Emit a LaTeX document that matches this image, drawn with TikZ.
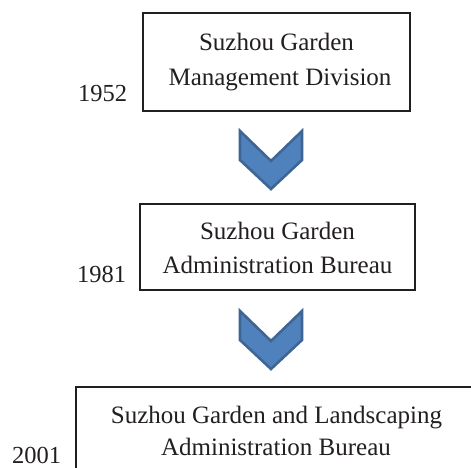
\documentclass[tikz,border=0pt]{standalone}
\usepackage{fontspec}
\setmainfont{Liberation Serif}
\usetikzlibrary{calc}
\definecolor{chevfill}{HTML}{4F81BD}
\definecolor{chevline}{HTML}{3F6595}
\definecolor{boxline}{HTML}{231F20}
\definecolor{txt}{HTML}{231F20}
\begin{document}
\begin{tikzpicture}[x=1pt,y=-1pt,
  boxshape/.style={draw=boxline,line width=1.6pt,inner sep=0pt,outer sep=0pt},
  label/.style={anchor=base,inner sep=0pt,text=txt,font=\fontsize{25}{30}\selectfont},
  yearlabel/.style={anchor=base west,inner sep=0pt,text=txt,font=\fontsize{24.5}{30}\selectfont},
  chev/.style={fill=chevfill,draw=chevline,line width=2.6pt,line join=miter}]
\clip (0,0) rectangle (471,467);
\fill[white] (0,0) rectangle (471,467);
% boxes
\node[boxshape,minimum width=267pt,minimum height=98pt] (b1) at (276.5,62) {};
\node[boxshape,minimum width=275pt,minimum height=86pt] (b2) at (277.5,247) {};
\node[boxshape,minimum width=402pt,minimum height=110pt] (b3) at (277,442) {};
% texts
\node[label] (t1a) at (276.5,50) {Suzhou Garden};
\node[label] (t1b) at (280,85) {Management Division};
\node[label] (t2a) at (277.5,239) {Suzhou Garden};
\node[label] (t2b) at (277.5,273) {Administration Bureau};
\node[label] (t3a) at (276.5,423) {Suzhou Garden and Landscaping};
\node[label] (t3b) at (276,455) {Administration Bureau};
% years
\node[yearlabel] (y1) at (78,101) {1952};
\node[yearlabel] (y2) at (77,282) {1981};
\node[yearlabel] (y3) at (12,463) {2001};
% chevrons
\coordinate (c1) at (271,131);
\coordinate (c2) at (271,311);
\foreach \c in {c1,c2}{
  \draw[chev] ($(\c)+(-31,0)$) -- ($(\c)+(0,30)$) -- ($(\c)+(31,0)$) -- ($(\c)+(31,29)$)
    -- ($(\c)+(0,58)$) -- ($(\c)+(-31,29)$) -- cycle;
}
\end{tikzpicture}
\end{document}
